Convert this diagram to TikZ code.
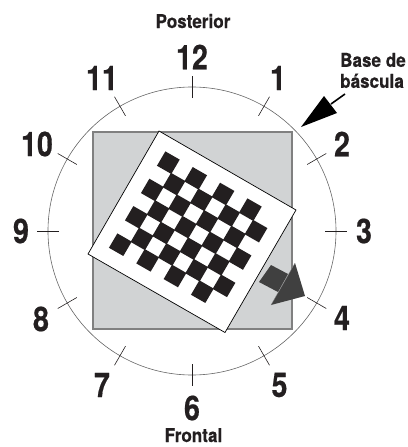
\documentclass[tikz,border=0pt]{standalone}
\usepackage{fontspec}
\setmainfont{TeX Gyre Heros}[BoldFeatures={FakeBold=0.5}]
\definecolor{inkc}{HTML}{231F20}
\definecolor{sqfill}{HTML}{D1D3D4}
\definecolor{sqedge}{HTML}{808080}
\definecolor{arrc}{HTML}{404040}
\begin{document}
\begin{tikzpicture}[x=1pt,y=-1pt,
  num/.style={inner sep=0pt,font=\fontsize{34}{34}\bfseries\selectfont,text=inkc,xscale=.84,transform shape},
  lab/.style={inner sep=0pt,font=\fontsize{19}{21}\bfseries\selectfont,text=inkc,xscale=.9,transform shape},
  tickln/.style={draw=inkc,line width=.6pt},
  chk/.style={fill=inkc}]
\useasboundingbox (0,0) rectangle (407,447);
\coordinate (c) at (192,231);
\fill[sqfill] (93,132) rectangle (292,329);
\draw[sqedge,line width=1.5pt] (93,132) rectangle (292,329);
\draw[black!60,line width=.6pt] (c) circle (144);
\foreach \a in {0,30,...,330}
  \draw[tickln] (c) ++(\a:133) -- ++(\a:22);
\draw[black,fill=white,line width=.7pt] (159,131) -- (296,210) -- (225,332.5) -- (88,254) -- cycle;
\foreach \j in {0,...,6}{
  \pgfmathtruncatemacro{\st}{mod(\j,2)}
  \foreach \k in {0,1,2,3}{
    \pgfmathsetmacro{\i}{\st+2*\k}
    \pgfmathsetmacro{\cx}{168.33+13.67*\i-8*\j}
    \pgfmathsetmacro{\cy}{162.67+7.83*\i+13.67*\j}
    \fill[chk] (\cx-2.97,\cy-11.29) -- (\cx+11.37,\cy-3.07) -- (\cx+2.97,\cy+11.29) -- (\cx-11.37,\cy+3.07) -- cycle;
  }
}
\fill[arrc] (271,265) -- (288,274) -- (278,292) -- (259,282) -- cycle;
\fill[arrc] (295,263) -- (305,296) -- (271,305) -- cycle;
\draw[black!45,line width=.3pt] (295,263) -- (271,305);
\fill[black] (301,127) -- (324,96) -- (337,113) -- cycle;
\draw[black,line width=1.6pt] (331,104) -- (345,94);
\node[num] (n12) at (192,57) {12};
\node[num] (n1) at (278,78) {1};
\node[num] (n2) at (342,144) {2};
\node[num] (n3) at (364,231) {3};
\node[num] (n4) at (342,318) {4};
\node[num] (n5) at (279.5,385) {5};
\node[num] (n6) at (192,408) {6};
\node[num] (n7) at (102,385) {7};
\node[num] (n8) at (41,319) {8};
\node[num] (n9) at (21,231) {9};
\node[num] (n10) at (37,144) {10};
\node[num] (n11) at (102,78) {11};
\node[lab,anchor=base] (post) at (193,28) {Posterior};
\node[lab,anchor=base] (front) at (193.5,442) {Frontal};
\node[lab,anchor=west,align=left] (base) at (340,70.5) {Base de\\báscula};
\end{tikzpicture}
\end{document}
